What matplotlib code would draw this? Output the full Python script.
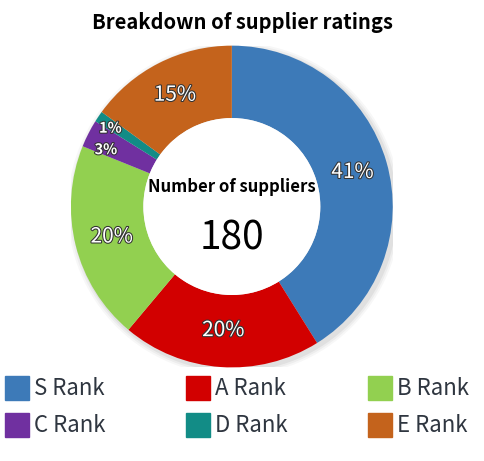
import numpy as np
import matplotlib.pyplot as plt
import matplotlib.patheffects as pe
from matplotlib.patches import Circle, Rectangle

plt.rcParams['font.family'] = ['Noto Sans CJK JP', 'DejaVu Sans']

# data
ranks = ['S Rank', 'A Rank', 'B Rank', 'C Rank', 'D Rank', 'E Rank']
counts = [74, 36, 36, 5, 2, 27]
pct_labels = ['41%', '20%', '20%', '3%', '1%', '15%']
colors = ['#3d7ab8', '#d20000', '#92d050', '#7030a0', '#128c86', '#c4631c']
total = 180

fig = plt.figure(figsize=(4.85, 4.61), dpi=100)

# title
fig.text(0.5, 0.952, 'Breakdown of supplier ratings', ha='center', va='center',
         fontsize=14.5, fontweight='bold', color='black')

# donut axes
ax = fig.add_axes([0.146, 0.203, 0.664, 0.698])

# soft shadow
for i, a in enumerate([0.05, 0.04, 0.03]):
    ax.add_patch(Circle((0.015, -0.015), 1.0 + 0.012 * (i + 1), color='black', alpha=a, zorder=0, lw=0))

wedges, _ = ax.pie(counts, colors=colors, startangle=90, counterclock=False,
                   radius=1.0, wedgeprops=dict(width=0.45, linewidth=0))
ax.add_patch(Circle((0, 0), 0.55, color='white', zorder=3, lw=0))
ax.set_xlim(-1, 1)
ax.set_ylim(-1, 1)
ax.set_aspect('equal')
ax.axis('off')

# percent labels (small slices pulled apart a bit)
dist = [0.78, 0.77, 0.77, 0.86, 0.90, 0.78]
shift = [0, 0, 0, 2.5, 1, 0]
for w, lab, d, s in zip(wedges, pct_labels, dist, shift):
    ang = np.deg2rad((w.theta1 + w.theta2) / 2 + s)
    small = lab in ('1%', '3%')
    ax.text(d * np.cos(ang), d * np.sin(ang), lab, ha='center', va='center',
            fontsize=10.5 if small else 15, fontweight='bold' if small else 'normal',
            color='white', zorder=5,
            path_effects=[pe.withStroke(linewidth=1.5, foreground='#333333')])

ax.text(0, 0.12, 'Number of suppliers', ha='center', va='center', fontsize=12,
        fontweight='bold', color='black', zorder=5)
ax.text(0, -0.2, str(total), ha='center', va='center', fontsize=28,
        color='black', zorder=5)

# legend
col_x = [5, 186, 368]
row_y = [388, 425]
for i, (name, c) in enumerate(zip(ranks, colors)):
    x = col_x[i % 3]
    y = row_y[i // 3]
    fig.patches.append(Rectangle((x / 485, 1 - (y + 12) / 461), 24 / 485, 24 / 461,
                                 transform=fig.transFigure, color=c, figure=fig))
    fig.text((x + 29) / 485, 1 - y / 461, name, ha='left', va='center',
             fontsize=16, color='#2f3640')

fig.savefig('out.png', dpi=100)
